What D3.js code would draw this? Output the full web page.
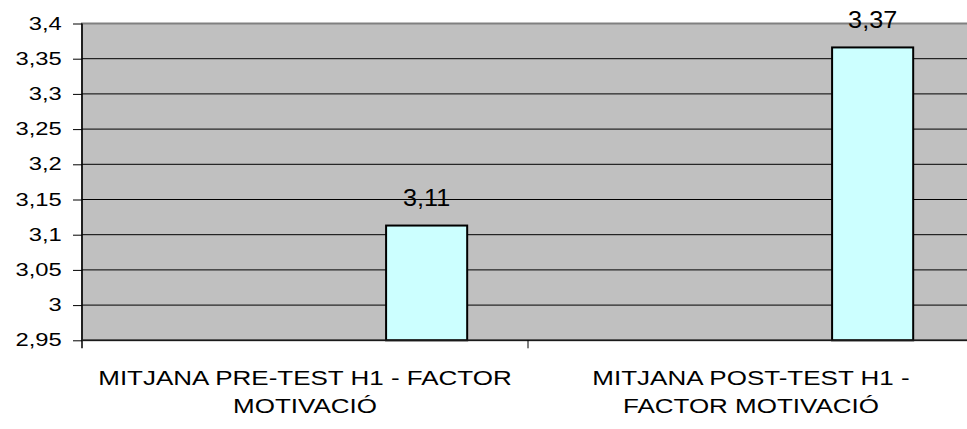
<!DOCTYPE html>
<html>
<head>
<meta charset="utf-8">
<script src="https://cdn.jsdelivr.net/npm/d3@7"></script>
<style>
  html, body { margin: 0; padding: 0; background: #ffffff; overflow: hidden; }
  svg { display: block; }
  text { font-family: "Liberation Sans", Arial, sans-serif; fill: #000; }
</style>
</head>
<body>
<svg id="chart" width="967" height="429"></svg>
<script>
// Mean motivation factor, pre-test vs post-test (H1)
const categories = [
  "MITJANA PRE-TEST H1 - FACTOR MOTIVACIÓ",
  "MITJANA POST-TEST H1 - FACTOR MOTIVACIÓ"
];
const categoryLines = [
  ["MITJANA PRE-TEST H1 - FACTOR", "MOTIVACIÓ"],
  ["MITJANA POST-TEST H1 -", "FACTOR MOTIVACIÓ"]
];
const meanValues = [3.113, 3.366];
const yTicks = [2.95, 3, 3.05, 3.1, 3.15, 3.2, 3.25, 3.3, 3.35, 3.4];

// series slots per category; the plotted series occupies the last one
const seriesSlots = 4;
const seriesSlot = 3;

const plot = { left: 82, top: 23.5, right: 974, bottom: 340.3 };

const locale = d3.formatLocale({ decimal: ",", thousands: ".", grouping: [3], currency: ["", " €"] });
const tickFmt = locale.format(".2~f");
const valueFmt = locale.format(".2f");

const svg = d3.select("#chart");

const x = d3.scaleBand().domain(categories).range([plot.left, plot.right]).padding(0);
const slot = d3.scaleBand().domain(d3.range(seriesSlots)).range([0, x.bandwidth()])
  .paddingInner(0).paddingOuter(0.75);
const y = d3.scaleLinear().domain([2.95, 3.4]).range([plot.bottom, plot.top]);

// plot area
svg.append("rect")
  .attr("x", plot.left).attr("y", plot.top)
  .attr("width", plot.right - plot.left).attr("height", plot.bottom - plot.top)
  .attr("fill", "#c0c0c0").attr("stroke", "#808080").attr("stroke-width", 2);

// horizontal gridlines
svg.append("g").selectAll("line")
  .data(yTicks.filter(t => t > 2.95 && t < 3.4))
  .join("line")
  .attr("x1", plot.left).attr("x2", plot.right)
  .attr("y1", d => y(d)).attr("y2", d => y(d))
  .attr("stroke", "#000").attr("stroke-width", 1);

// bars
svg.append("g").selectAll("rect")
  .data(categories.map((c, i) => ({ c, v: meanValues[i] })))
  .join("rect")
  .attr("x", d => x(d.c) + slot(seriesSlot))
  .attr("y", d => y(d.v))
  .attr("width", slot.bandwidth())
  .attr("height", d => y(2.95) - y(d.v))
  .attr("fill", "#ccffff").attr("stroke", "#000").attr("stroke-width", 2);

// value axis
const yAxis = d3.axisLeft(y).tickValues(yTicks).tickSize(9).tickFormat("");
const gy = svg.append("g").attr("transform", `translate(${plot.left},0)`).call(yAxis);
gy.select(".domain").remove();
gy.selectAll(".tick line").attr("stroke", "#000");
svg.append("line")
  .attr("x1", plot.left).attr("x2", plot.left)
  .attr("y1", plot.top).attr("y2", plot.bottom + 8)
  .attr("stroke", "#000").attr("stroke-width", 1.5);

svg.append("g").selectAll("text")
  .data(yTicks)
  .join("text")
  .attr("transform", d => `translate(61.7,${y(d)}) scale(1.25,1)`)
  .attr("text-anchor", "end")
  .attr("dominant-baseline", "central")
  .attr("font-size", 19)
  .text(d => tickFmt(d));

// category axis
svg.append("line")
  .attr("x1", plot.left).attr("x2", plot.right)
  .attr("y1", plot.bottom).attr("y2", plot.bottom)
  .attr("stroke", "#1a1a1a").attr("stroke-width", 1.5);

const boundaries = categories.slice(1).map(c => x(c));
svg.append("g").selectAll("line")
  .data(boundaries)
  .join("line")
  .attr("x1", d => d).attr("x2", d => d)
  .attr("y1", plot.bottom).attr("y2", plot.bottom + 8)
  .attr("stroke", "#000").attr("stroke-width", 1);

const catG = svg.append("g").selectAll("g")
  .data(categories)
  .join("g")
  .attr("transform", d => `translate(${x(d) + x.bandwidth() / 2},0)`);
catG.selectAll("text")
  .data((d, i) => categoryLines[i])
  .join("text")
  .attr("transform", (d, j) => `translate(0,${385 + j * 28}) scale(1.3,1)`)
  .attr("text-anchor", "middle")
  .attr("font-size", 20)
  .text(d => d);

// value labels
svg.append("g").selectAll("text")
  .data(categories.map((c, i) => ({ c, v: meanValues[i] })))
  .join("text")
  .attr("transform", d => `translate(${x(d.c) + slot(seriesSlot) + slot.bandwidth() / 2},${y(d.v) - 19.5}) scale(1.05,1)`)
  .attr("text-anchor", "middle")
  .attr("font-size", 24)
  .text(d => valueFmt(d.v));
</script>
</body>
</html>
